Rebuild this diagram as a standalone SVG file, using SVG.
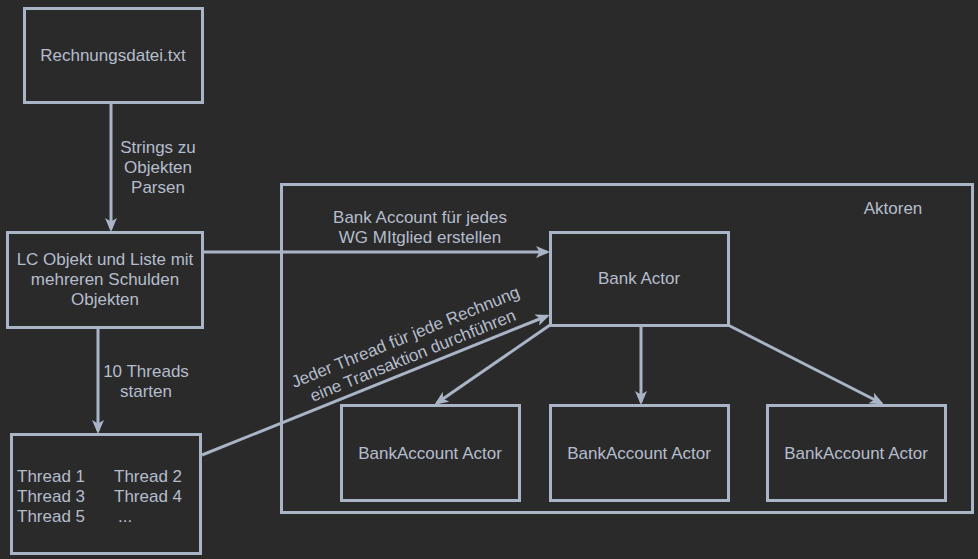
<svg xmlns="http://www.w3.org/2000/svg" width="978" height="559" viewBox="0 0 978 559">
<defs>
<style>
.box{fill:#2a2a2a;stroke:#a9b4c6;stroke-width:3}
.cont{fill:none;stroke:#a9b4c6;stroke-width:3}
.t{font-family:"Liberation Sans",Arial,sans-serif;font-size:17px;fill:#b5bdcc}
.c{text-anchor:middle}
.edge{fill:none;stroke:#a9b4c6;stroke-width:3}
</style>
<marker id="arr" markerUnits="userSpaceOnUse" markerWidth="14" markerHeight="12" refX="11" refY="6" orient="auto" viewBox="0 0 14 12">
<path d="M0,0 L14,6 L0,12 L3.5,6 z" fill="#a9b4c6"/>
</marker>
</defs>
<rect width="978" height="559" fill="#2a2a2a"/>
<g id="aktoren">
<rect class="cont" x="281.5" y="184.5" width="691" height="328"/>
<text class="t c" x="893" y="214">Aktoren</text>
</g>
<g id="edges">
<line class="edge" x1="111" y1="102" x2="111" y2="229" marker-end="url(#arr)"/>
<line class="edge" x1="202" y1="252" x2="547" y2="252" marker-end="url(#arr)"/>
<line class="edge" x1="98" y1="327" x2="98" y2="431" marker-end="url(#arr)"/>
<line class="edge" x1="202" y1="455" x2="547" y2="316" marker-end="url(#arr)"/>
<line class="edge" x1="550" y1="325" x2="437" y2="403" marker-end="url(#arr)"/>
<line class="edge" x1="641" y1="325" x2="641" y2="402" marker-end="url(#arr)"/>
<line class="edge" x1="728" y1="325" x2="881" y2="403" marker-end="url(#arr)"/>
<text class="t c" x="158" y="153">Strings zu</text>
<text class="t c" x="158" y="173">Objekten</text>
<text class="t c" x="158" y="193">Parsen</text>
<text class="t c" x="420" y="223">Bank Account für jedes</text>
<text class="t c" x="420" y="243">WG MItglied erstellen</text>
<text class="t c" x="146" y="377">10 Threads</text>
<text class="t c" x="146" y="397">starten</text>
<g transform="translate(409,346) rotate(-22)">
<text class="t c" x="0" y="-4">Jeder Thread für jede Rechnung</text>
<text class="t c" x="0" y="16">eine Transaktion durchführen</text>
</g>
</g>
<g id="rechnungsdatei">
<rect class="box" x="24.5" y="8.5" width="178" height="94"/>
<text class="t c" x="113" y="61">Rechnungsdatei.txt</text>
</g>
<g id="lcobjekt">
<rect class="box" x="7.5" y="232.5" width="195" height="95"/>
<text class="t c" x="105" y="265">LC Objekt und Liste mit</text>
<text class="t c" x="105" y="285">mehreren Schulden</text>
<text class="t c" x="105" y="305">Objekten</text>
</g>
<g id="threads">
<rect class="box" x="11.5" y="434.5" width="189" height="119"/>
<text class="t" x="17" y="482">Thread 1</text>
<text class="t" x="114" y="482">Thread 2</text>
<text class="t" x="17" y="502">Thread 3</text>
<text class="t" x="114" y="502">Thread 4</text>
<text class="t" x="17" y="522">Thread 5</text>
<text class="t" x="118" y="522">...</text>
</g>
<g id="bankactor">
<rect class="box" x="550.5" y="232.5" width="178" height="93"/>
<text class="t c" x="639" y="284">Bank Actor</text>
</g>
<g id="account1">
<rect class="box" x="341.5" y="405.5" width="178" height="95"/>
<text class="t c" x="430" y="459">BankAccount Actor</text>
</g>
<g id="account2">
<rect class="box" x="550.5" y="405.5" width="178" height="95"/>
<text class="t c" x="639" y="459">BankAccount Actor</text>
</g>
<g id="account3">
<rect class="box" x="767.5" y="405.5" width="178" height="95"/>
<text class="t c" x="856" y="459">BankAccount Actor</text>
</g>
</svg>
